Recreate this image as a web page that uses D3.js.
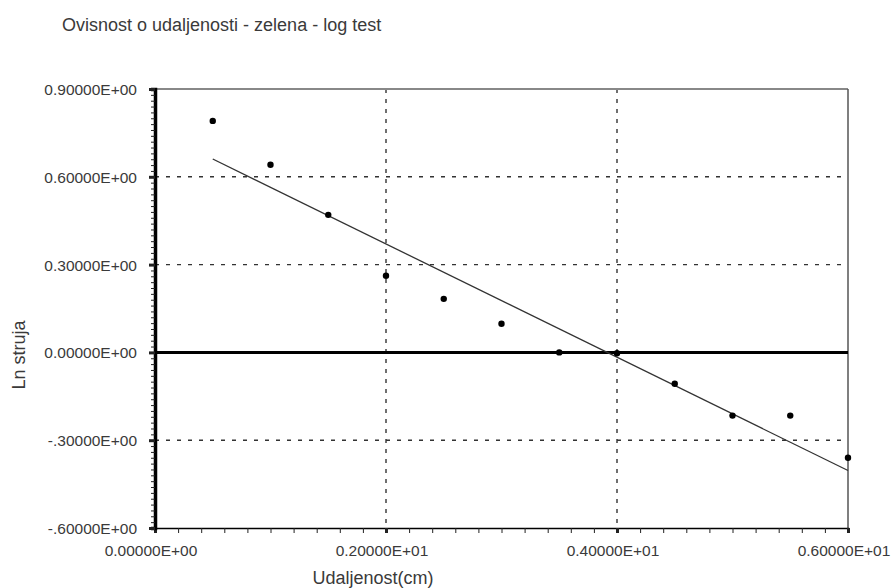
<!DOCTYPE html>
<html>
<head>
<meta charset="utf-8">
<script src="https://cdn.jsdelivr.net/npm/d3@7"></script>
<style>
  body { margin: 0; background: #fff; }
  text { font-family: "Liberation Sans", Arial, sans-serif; fill: #3a3a3a; }
</style>
</head>
<body>
<svg width="893" height="588"></svg>
<script>
// measured points (distance in cm, ln of current)
var distance = [0.5, 1.0, 1.5, 2.0, 2.5, 3.0, 3.5, 4.0, 4.5, 5.0, 5.5, 6.0];
var lnCurrent = [0.791, 0.641, 0.470, 0.262, 0.183, 0.098, 0.000, -0.003, -0.107, -0.216, -0.216, -0.360];
var xTicks = [0, 2, 4, 6];
var yTicks = [0.9, 0.6, 0.3, 0, -0.3, -0.6];

var svg = d3.select('svg');
var pLeft = 155, pRight = 848, pTop = 89, pBottom = 528;

var x = d3.scaleLinear().domain([0, 6]).range([pLeft, pRight]);
var y = d3.scaleLinear().domain([-0.6, 0.9]).range([pBottom, pTop]);

// fmt like the old fortran output: 0.20000E+01, -.30000E+00
function fmt(v) {
  if (v == 0) return '0.00000E+00';
  var e = Math.floor(Math.log10(Math.abs(v))) + 1;
  var m = Math.abs(v) / Math.pow(10, e);
  var s = m.toFixed(5).replace(/^0/, v < 0 ? '-' : '0');
  return s + 'E' + (e < 0 ? '-' : '+') + String(Math.abs(e)).padStart(2, '0');
}

svg.append('text')
  .attr('x', 62).attr('y', 31)
  .style('font-size', '18px')
  .text('Ovisnost o udaljenosti - zelena - log test');

// grid lines (dotted)
var grid = svg.append('g');
grid.selectAll('.hg').data(yTicks.filter(d => d != 0 && d != 0.9 && d != -0.6)).enter()
  .append('line')
  .attr('x1', pLeft).attr('x2', pRight)
  .attr('y1', d => y(d)).attr('y2', d => y(d))
  .attr('stroke', '#333').attr('stroke-width', 1.4)
  .attr('stroke-dasharray', '4,7');
grid.selectAll('.vg').data(xTicks.filter(d => d != 0 && d != 6)).enter()
  .append('line')
  .attr('x1', d => x(d)).attr('x2', d => x(d))
  .attr('y1', pTop).attr('y2', pBottom)
  .attr('stroke', '#333').attr('stroke-width', 1.4)
  .attr('stroke-dasharray', '4,6');

// frame: top gray, right thin
svg.append('line').attr('x1', pLeft).attr('x2', pRight).attr('y1', pTop).attr('y2', pTop)
  .attr('stroke', '#888').attr('stroke-width', 2);
svg.append('line').attr('x1', pRight).attr('x2', pRight).attr('y1', pTop).attr('y2', pBottom)
  .attr('stroke', '#555').attr('stroke-width', 1.5);

// zero line
svg.append('line').attr('x1', pLeft).attr('x2', pRight).attr('y1', y(0)).attr('y2', y(0))
  .attr('stroke', '#000').attr('stroke-width', 3);

// x axis
var xAxis = d3.axisBottom(x).tickValues(d3.range(0, 6.0001, 0.2)).tickSize(5).tickFormat('');
var gx = svg.append('g').attr('transform', 'translate(0,' + pBottom + ')').call(xAxis);
gx.select('.domain').attr('stroke', '#000').attr('stroke-width', 1.5);
gx.selectAll('.tick line').attr('stroke', '#222')
  .attr('stroke-width', d => Math.abs(d - Math.round(d / 2) * 2) < 1e-6 ? 3 : 1);
svg.selectAll('.xl').data(xTicks).enter().append('text')
  .attr('x', d => x(d) - 4).attr('y', 556)
  .attr('text-anchor', 'middle')
  .style('font-size', '15.5px')
  .text(fmt);

// y axis
var yAxis = d3.axisLeft(y).tickValues(d3.range(-0.6, 0.9001, 0.02)).tickSize(4).tickFormat('');
var gy = svg.append('g').attr('transform', 'translate(' + pLeft + ',0)').call(yAxis);
gy.select('.domain').attr('stroke', '#000').attr('stroke-width', 3.5);
gy.selectAll('.tick line').attr('stroke', '#222')
  .attr('stroke-width', d => Math.abs(d * 10 / 3 - Math.round(d * 10 / 3)) < 1e-6 ? 3 : 1)
  .attr('x2', d => Math.abs(d * 10 / 3 - Math.round(d * 10 / 3)) < 1e-6 ? -6 : -4);
svg.selectAll('.yl').data(yTicks).enter().append('text')
  .attr('x', 137).attr('y', d => y(d) + 6)
  .attr('text-anchor', 'end')
  .style('font-size', '15.5px')
  .text(fmt);

// axis titles
svg.append('text').attr('x', 373).attr('y', 584).attr('text-anchor', 'middle')
  .style('font-size', '18px').text('Udaljenost(cm)');
svg.append('text').attr('transform', 'translate(25,355) rotate(-90)')
  .attr('text-anchor', 'middle')
  .style('font-size', '18px').text('Ln struja');

// least squares line through the points
var mx = d3.mean(distance), my = d3.mean(lnCurrent);
var sxy = d3.sum(distance, (d, i) => (d - mx) * (lnCurrent[i] - my));
var sxx = d3.sum(distance, d => (d - mx) * (d - mx));
var slope = sxy / sxx, icpt = my - slope * mx;
var x0 = d3.min(distance), x1 = d3.max(distance);
svg.append('line')
  .attr('x1', x(x0)).attr('y1', y(icpt + slope * x0))
  .attr('x2', x(x1)).attr('y2', y(icpt + slope * x1))
  .attr('stroke', '#333').attr('stroke-width', 1.3);

// points
svg.selectAll('.pt').data(distance).enter().append('circle')
  .attr('cx', d => x(d)).attr('cy', (d, i) => y(lnCurrent[i]))
  .attr('r', 3.2).attr('fill', '#000');
</script>
</body>
</html>
